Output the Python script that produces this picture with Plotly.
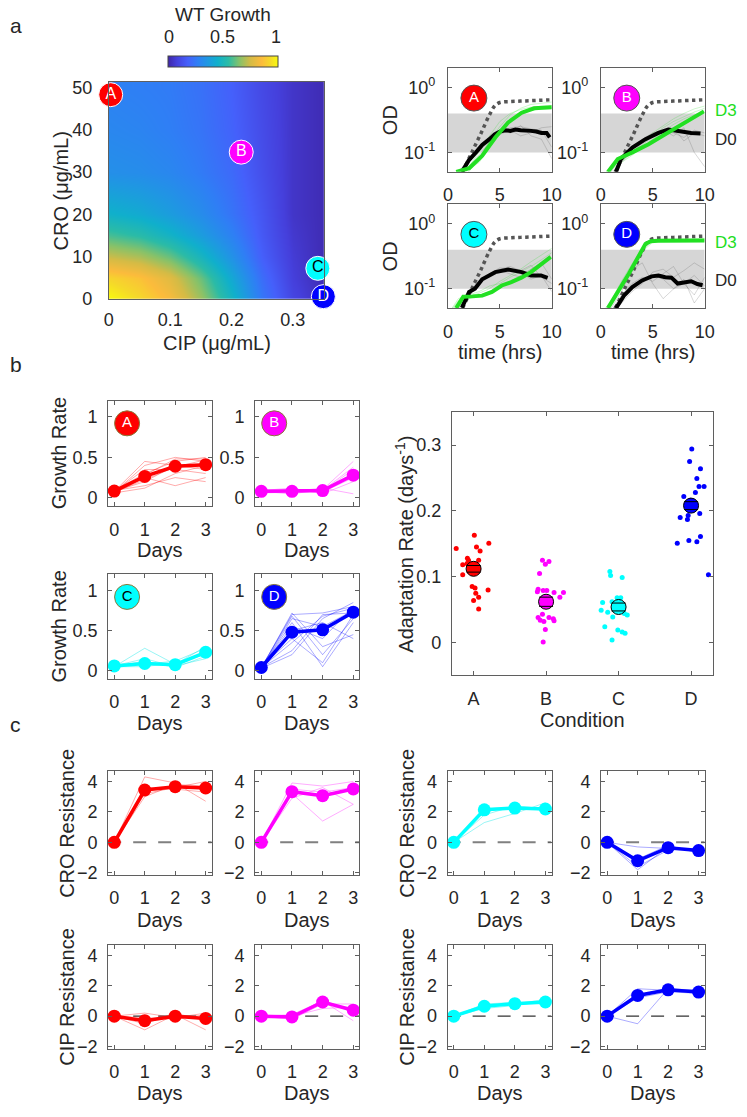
import plotly.graph_objects as go

W, H = 747, 1117
FONT = "Liberation Sans, Arial, Helvetica, sans-serif"
TXT = "#262626"
AXC = "#5f5f5f"

# ------------------------------------------------------------------ data
conditions = ["A", "B", "C", "D"]
cond_color = {"A": "#ff0000", "B": "#ff00ff", "C": "#00ffff", "D": "#0000ff"}
cond_faint = {"A": "rgba(255,0,0,0.33)", "B": "rgba(255,0,255,0.33)",
              "C": "rgba(0,230,230,0.4)", "D": "rgba(0,0,255,0.33)"}
letter_color = {"A": "white", "B": "white", "C": "black", "D": "white"}

# panel a : WT growth landscape (rows = CRO, columns = CIP)
cip_grid = [0.0, 0.05, 0.10, 0.15, 0.20, 0.25, 0.30, 0.35]
cro_grid = [0, 5, 10, 15, 20, 30, 40, 50]
wt_growth = [
    [1.00, 0.93, 0.84, 0.68, 0.48, 0.25, 0.10, 0.03],
    [0.92, 0.87, 0.78, 0.62, 0.42, 0.22, 0.08, 0.02],
    [0.74, 0.70, 0.62, 0.49, 0.34, 0.18, 0.07, 0.02],
    [0.58, 0.54, 0.47, 0.38, 0.28, 0.16, 0.06, 0.02],
    [0.46, 0.43, 0.38, 0.32, 0.24, 0.15, 0.05, 0.02],
    [0.33, 0.32, 0.30, 0.26, 0.21, 0.13, 0.05, 0.02],
    [0.30, 0.29, 0.27, 0.24, 0.19, 0.12, 0.05, 0.02],
    [0.28, 0.27, 0.26, 0.23, 0.18, 0.11, 0.05, 0.02],
]
cond_cip = [0.003, 0.216, 0.341, 0.350]
cond_cro = [48.3, 34.7, 7.2, 0.5]
growth_ticks = [0, 0.5, 1]
growth_ticktext = ["0", "0.5", "1"]

# panel a : OD curves
od_band = [0.1, 0.4]
wt_time = [1.4, 2.3, 3.2, 4.0, 4.5, 5.0, 6.0, 7.0, 8.0, 9.0, 10.0]
wt_od = [0.05, 0.1, 0.2, 0.38, 0.52, 0.59, 0.61, 0.62, 0.63, 0.64, 0.65]
d0_time = {
    "A": [1.35, 2.0, 2.7, 3.3, 4.0, 4.5, 5.0, 5.5, 6.0, 6.5, 7.0, 7.5, 8.0, 8.5, 9.0, 9.5, 9.8],
    "B": [1.47, 1.94, 3.04, 4.3, 5.55, 6.5, 7.0, 7.75, 8.7, 9.6],
    "C": [1.35, 2.04, 2.6, 3.3, 4.56, 5.8, 7.1, 8.0, 8.96, 9.6],
    "D": [1.47, 2.26, 3.04, 3.98, 4.9, 5.55, 6.2, 6.8, 7.4, 8.06, 8.7, 9.3, 9.8],
}
d0_od = {
    "A": [0.05, 0.075, 0.1, 0.13, 0.16, 0.19, 0.21, 0.22, 0.215, 0.225, 0.22, 0.22, 0.215, 0.21, 0.2, 0.2, 0.17],
    "B": [0.05, 0.079, 0.119, 0.16, 0.20, 0.226, 0.22, 0.21, 0.20, 0.195],
    "C": [0.051, 0.089, 0.1, 0.14, 0.18, 0.197, 0.18, 0.16, 0.16, 0.147],
    "D": [0.05, 0.079, 0.106, 0.134, 0.155, 0.16, 0.15, 0.148, 0.12, 0.123, 0.13, 0.118, 0.113],
}
d3_time = {
    "A": [0.8, 2.05, 3.3, 4.56, 5.8, 7.1, 8.3, 10.0],
    "B": [0.69, 1.63, 3.04, 4.6, 6.2, 7.75, 9.0, 9.93],
    "C": [0.79, 1.48, 2.36, 3.3, 4.24, 5.18, 6.1, 7.07, 8.0, 8.96, 9.9],
    "D": [0.69, 2.7, 4.3, 4.8, 5.5, 10.0],
}
d3_od = {
    "A": [0.05, 0.057, 0.089, 0.17, 0.29, 0.41, 0.48, 0.5],
    "B": [0.05, 0.079, 0.10, 0.134, 0.19, 0.27, 0.36, 0.43],
    "C": [0.05, 0.075, 0.076, 0.078, 0.089, 0.112, 0.126, 0.148, 0.18, 0.234, 0.31],
    "D": [0.05, 0.17, 0.49, 0.54, 0.55, 0.555],
}
rep_time = [0, 1, 2, 3, 4, 5, 6, 7, 8, 9, 10]
d0_reps = {
    "A": [[0.03, 0.04, 0.07, 0.11, 0.16, 0.20, 0.24, 0.25, 0.23, 0.22, 0.12],
          [0.03, 0.04, 0.06, 0.09, 0.14, 0.19, 0.22, 0.18, 0.20, 0.24, 0.25],
          [0.03, 0.05, 0.08, 0.12, 0.17, 0.22, 0.20, 0.26, 0.18, 0.16, 0.08]],
    "B": [[0.03, 0.04, 0.07, 0.10, 0.14, 0.18, 0.20, 0.24, 0.15, 0.20, 0.18],
          [0.03, 0.05, 0.09, 0.12, 0.16, 0.20, 0.22, 0.18, 0.24, 0.10, 0.06],
          [0.03, 0.045, 0.08, 0.11, 0.15, 0.19, 0.21, 0.20, 0.17, 0.22, 0.20]],
    "C": [[0.03, 0.05, 0.09, 0.13, 0.17, 0.20, 0.22, 0.19, 0.23, 0.15, 0.12],
          [0.03, 0.05, 0.08, 0.12, 0.16, 0.19, 0.17, 0.15, 0.20, 0.25, 0.14],
          [0.03, 0.045, 0.085, 0.12, 0.17, 0.21, 0.20, 0.18, 0.14, 0.16, 0.09]],
    "D": [[0.03, 0.045, 0.07, 0.10, 0.13, 0.16, 0.14, 0.10, 0.12, 0.16, 0.11],
          [0.03, 0.04, 0.06, 0.09, 0.12, 0.18, 0.20, 0.15, 0.19, 0.25, 0.20],
          [0.03, 0.05, 0.09, 0.20, 0.25, 0.12, 0.07, 0.10, 0.14, 0.06, 0.10],
          [0.03, 0.045, 0.08, 0.12, 0.15, 0.13, 0.17, 0.22, 0.12, 0.08, 0.15]],
}
d3_reps = {
    "A": [[0.03, 0.04, 0.05, 0.08, 0.15, 0.25, 0.38, 0.48, 0.55, 0.58, 0.60],
          [0.03, 0.045, 0.06, 0.10, 0.18, 0.30, 0.40, 0.46, 0.50, 0.52, 0.53],
          [0.03, 0.04, 0.055, 0.07, 0.12, 0.20, 0.30, 0.38, 0.44, 0.48, 0.50]],
    "B": [[0.04, 0.06, 0.08, 0.11, 0.15, 0.20, 0.26, 0.33, 0.40, 0.47, 0.52],
          [0.04, 0.055, 0.07, 0.09, 0.12, 0.16, 0.21, 0.27, 0.33, 0.38, 0.42],
          [0.04, 0.06, 0.075, 0.10, 0.13, 0.18, 0.24, 0.30, 0.36, 0.42, 0.48]],
    "C": [[0.04, 0.065, 0.075, 0.085, 0.10, 0.13, 0.16, 0.20, 0.26, 0.33, 0.42],
          [0.04, 0.06, 0.07, 0.08, 0.09, 0.11, 0.13, 0.16, 0.20, 0.25, 0.30],
          [0.04, 0.07, 0.08, 0.09, 0.11, 0.12, 0.15, 0.18, 0.22, 0.28, 0.36]],
    "D": [[0.04, 0.06, 0.12, 0.22, 0.38, 0.52, 0.54, 0.55, 0.55, 0.56, 0.56],
          [0.04, 0.065, 0.13, 0.24, 0.42, 0.56, 0.58, 0.58, 0.59, 0.59, 0.60]],
}
od_ticks = [0.1, 1]
od_ticktext = ["10<sup>-1</sup>", "10<sup>0</sup>"]

# panel b : growth rate vs day
days = [0, 1, 2, 3]
growth_mean = {
    "A": [0.083, 0.265, 0.39, 0.41],
    "B": [0.08, 0.08, 0.09, 0.28],
    "C": [0.06, 0.09, 0.075, 0.23],
    "D": [0.04, 0.48, 0.51, 0.73],
}
growth_reps = {
    "A": [[0.08, 0.45, 0.40, 0.42], [0.07, 0.40, 0.50, 0.45], [0.09, 0.30, 0.45, 0.50],
          [0.08, 0.20, 0.40, 0.35], [0.06, 0.12, 0.30, 0.40], [0.08, 0.35, 0.35, 0.30],
          [0.07, 0.25, 0.15, 0.25], [0.09, 0.15, 0.25, 0.20], [0.08, 0.28, 0.48, 0.48],
          [0.07, 0.22, 0.38, 0.47]],
    "B": [[0.08, 0.10, 0.10, 0.45], [0.07, 0.06, 0.08, 0.35], [0.09, 0.12, 0.05, 0.20],
          [0.08, 0.05, 0.10, 0.30], [0.07, 0.08, 0.12, 0.05], [0.08, 0.09, 0.07, 0.25],
          [0.06, 0.07, 0.09, 0.38]],
    "C": [[0.05, 0.28, 0.08, 0.30], [0.06, 0.15, 0.05, 0.25], [0.05, 0.05, 0.10, 0.20],
          [0.07, 0.10, 0.06, 0.15], [0.06, 0.08, 0.12, 0.28], [0.05, 0.12, 0.04, 0.18]],
    "D": [[0.04, 0.70, 0.72, 0.80], [0.03, 0.65, 0.55, 0.75], [0.05, 0.55, 0.40, 0.80],
          [0.04, 0.25, 0.70, 0.72], [0.03, 0.20, 0.65, 0.85], [0.05, 0.40, 0.10, 0.70],
          [0.04, 0.60, 0.05, 0.60], [0.03, 0.72, 0.30, 0.45], [0.04, 0.35, 0.68, 0.78],
          [0.05, 0.50, 0.60, 0.40], [0.04, 0.68, 0.20, 0.65]],
}

# panel b : adaptation rate
cond_pos = [1, 2, 3, 4]
adapt_x = {
    "A": [0.76, 1.01, 0.915, 1.04, 1.09, 1.21, 0.91, 0.85, 0.85, 0.99, 1.07, 0.98, 1.02, 1.2, 1.03, 1.07, 1.0, 1.07, 1.06, 0.93],
    "B": [1.95, 1.99, 2.04, 1.91, 1.89, 1.96, 2.01, 2.11, 2.24, 2.19, 1.89, 1.92, 2.04, 2.1, 2.11, 1.97, 1.95, 1.99, 1.96, 1.88],
    "C": [2.88, 2.89, 3.05, 2.78, 2.91, 2.98, 3.03, 2.76, 2.85, 2.92, 3.08, 3.12, 2.81, 2.99, 3.05, 3.09, 2.91, 3.02],
    "D": [4.01, 3.98, 4.13, 4.08, 4.11, 4.18, 4.06, 3.9, 3.99, 4.12, 3.96, 3.85, 3.95, 3.81, 3.97, 4.08, 4.13, 4.24, 4.02],
}
adapt_y = {
    "A": [0.143, 0.163, 0.128, 0.145, 0.139, 0.151, 0.12, 0.118, 0.103, 0.105, 0.125, 0.085, 0.083, 0.080, 0.075, 0.069, 0.064, 0.051, 0.111, 0.125],
    "B": [0.125, 0.119, 0.123, 0.105, 0.081, 0.079, 0.079, 0.076, 0.076, 0.069, 0.038, 0.034, 0.038, 0.036, 0.033, 0.032, 0.043, 0.020, 0.001, 0.077],
    "C": [0.108, 0.102, 0.099, 0.061, 0.062, 0.068, 0.068, 0.049, 0.046, 0.039, 0.044, 0.042, 0.024, 0.019, 0.016, 0.014, 0.004, 0.057],
    "D": [0.294, 0.275, 0.264, 0.249, 0.237, 0.237, 0.228, 0.222, 0.216, 0.196, 0.193, 0.190, 0.187, 0.151, 0.155, 0.153, 0.161, 0.103, 0.21],
}
adapt_mean = [0.112, 0.062, 0.054, 0.208]
adapt_sem = [0.005, 0.007, 0.006, 0.006]
adapt_ticks = [0, 0.1, 0.2, 0.3]
adapt_ticktext = ["0", "0.1", "0.2", "0.3"]

# panel c : resistance
cro_mean = {"A": [0, 3.44, 3.66, 3.57], "B": [0, 3.33, 3.07, 3.51],
            "C": [0, 2.14, 2.25, 2.19], "D": [0, -1.21, -0.35, -0.54]}
cip_mean = {"A": [0, -0.3, 0.0, -0.15], "B": [0, -0.05, 0.93, 0.39],
            "C": [0, 0.65, 0.82, 0.93], "D": [0, 1.36, 1.73, 1.58]}
cro_reps = {
    "A": [[0, 4.3, 3.9, 2.7], [0, 3.2, 3.6, 4.0], [0, 3.6, 3.5, 3.3], [0, 3.0, 3.8, 3.7]],
    "B": [[0, 3.2, 1.4, 2.5], [0, 3.9, 3.7, 4.0], [0, 2.9, 3.6, 2.5], [0, 3.5, 3.3, 3.6]],
    "C": [[0, 1.3, 1.9, 2.6], [0, 2.2, 2.3, 2.1], [0, 1.8, 2.4, 2.2]],
    "D": [[0, -1.8, -0.3, -0.6], [0, -0.3, -0.4, -0.5], [0, -1.6, -0.5, -0.4], [0, -1.1, -0.2, -0.7]],
}
cip_reps = {
    "A": [[0, -0.9, 0.1, -0.9], [0, 0.2, -0.1, 0.2], [0, -0.5, 0.2, -0.3], [0, -0.1, -0.2, 0.1]],
    "B": [[0, 0.1, 1.0, -0.3], [0, -0.2, 0.8, 0.8], [0, 0.0, 0.5, 0.6], [0, -0.1, 1.1, 0.2]],
    "C": [[0, 0.5, 0.7, 1.0], [0, 0.8, 0.9, 0.8], [0, 0.6, 0.8, 1.1]],
    "D": [[0, -0.5, 1.8, 1.5], [0, 1.8, 1.7, 1.6], [0, 1.4, 1.8, 1.7], [0, 1.2, 1.6, 1.5]],
}
res_ticks = [-2, 0, 2, 4]

parula = [[0.00, "#3e26a8"], [0.08, "#4540dc"], [0.18, "#4560fb"], [0.27, "#2f7ff5"],
          [0.36, "#1f98e2"], [0.45, "#10b0cc"], [0.55, "#2cbca6"], [0.65, "#86c26a"],
          [0.75, "#d5bb45"], [0.85, "#fcbb3c"], [0.93, "#f5d92a"], [1.00, "#f9fb0e"]]

# ------------------------------------------------------------------ layout helpers
def px_x(v):
    return v / W


def px_y(v):
    return 1 - v / H


specs = [
    ("heat", 106, 325.5, 79, 298.5),
    ("odA", 452, 558, 65, 170), ("odB", 608, 714, 65, 170),
    ("odC", 452, 558, 203, 308), ("odD", 608, 714, 203, 308),
    ("grA", 105.3, 211, 401.7, 508.3), ("grB", 255.3, 361.7, 401.7, 508.3),
    ("grC", 105.3, 211, 577.7, 683.3), ("grD", 255.3, 361.7, 577.7, 683.3),
    ("adapt", 456, 722.3, 413.3, 680),
    ("croA", 105.3, 211, 776.7, 882.3), ("croB", 255.3, 361.7, 776.7, 882.3),
    ("croC", 451.7, 557.7, 776.7, 882.3), ("croD", 608.3, 714, 776.7, 882.3),
    ("cipA", 105.3, 211, 952.7, 1058.3), ("cipB", 255.3, 361.7, 952.7, 1058.3),
    ("cipC", 451.7, 557.7, 952.7, 1058.3), ("cipD", 608.3, 714, 952.7, 1058.3),
]

fig = go.Figure()
layout = dict(width=W, height=H, margin=dict(l=0, r=0, t=0, b=0),
              paper_bgcolor="white", plot_bgcolor="white", showlegend=False,
              font=dict(family=FONT, color=TXT))
ref = {}
base = dict(showline=True, linecolor=AXC, linewidth=1, mirror="ticks", ticks="inside",
            ticklen=4, tickcolor=AXC, tickfont=dict(size=18, color=TXT, family=FONT),
            zeroline=False, showgrid=False, fixedrange=True)
for k, (name, l, r, t, b) in enumerate(specs, start=1):
    sfx = "" if k == 1 else str(k)
    ref[name] = ("x" + sfx, "y" + sfx)
    layout["xaxis" + sfx] = dict(base, domain=[px_x(l), px_x(r)], anchor="y" + sfx)
    layout["yaxis" + sfx] = dict(base, domain=[px_y(b), px_y(t)], anchor="x" + sfx)


def ax(name, which):
    k = [s[0] for s in specs].index(name) + 1
    sfx = "" if k == 1 else str(k)
    return layout[which + "axis" + sfx]


def add(tr, name):
    xr, yr = ref[name]
    tr.update(xaxis=xr, yaxis=yr, hoverinfo="skip")
    fig.add_trace(tr)


# ------------------------------------------------------------------ heatmap
add(go.Heatmap(x=cip_grid, y=cro_grid, z=wt_growth, zmin=0, zmax=1, zsmooth="best",
               colorscale=parula,
               colorbar=dict(orientation="h", x=px_x(222), xanchor="center",
                             y=px_y(58.5), yanchor="middle", len=110, lenmode="pixels",
                             thickness=11, thicknessmode="pixels", xpad=0, ypad=0,
                             tickvals=growth_ticks, showticklabels=False, ticks="",
                             outlinewidth=1, outlinecolor="#444")), "heat")
add(go.Scatter(x=cond_cip, y=cond_cro, mode="markers+text", text=conditions,
               textposition="middle center", cliponaxis=False,
               textfont=dict(size=16, color=[letter_color[c] for c in conditions], family=FONT),
               marker=dict(size=24, color=[cond_color[c] for c in conditions],
                           line=dict(color="white", width=1))), "heat")
hx, hy = ax("heat", "x"), ax("heat", "y")
hx.update(range=[0, 0.351], tickvals=[0, 0.1, 0.2, 0.3], ticks="", mirror=True,
          ticklabelstandoff=5)
hy.update(range=[0, 51.3], tickvals=[0, 10, 20, 30, 40, 50], ticks="", mirror=True,
          ticklabelstandoff=12)

# ------------------------------------------------------------------ OD panels
for c in conditions:
    name = "od" + c
    add(go.Scatter(x=[0, 10, 10, 0, 0], y=[od_band[0], od_band[0], od_band[1], od_band[1], od_band[0]],
                   fill="toself", fillcolor="#d6d6d6", mode="lines", line=dict(width=0)), name)
    for rep in d0_reps[c]:
        add(go.Scatter(x=rep_time, y=rep, mode="lines",
                       line=dict(color="rgba(90,90,90,0.3)", width=0.8)), name)
    for rep in d3_reps[c]:
        add(go.Scatter(x=rep_time, y=rep, mode="lines",
                       line=dict(color="rgba(40,220,40,0.3)", width=0.8)), name)
    add(go.Scatter(x=wt_time, y=wt_od, mode="lines",
                   line=dict(color="#555555", width=3.5, dash="dot", shape="spline")), name)
    add(go.Scatter(x=d0_time[c], y=d0_od[c], mode="lines",
                   line=dict(color="black", width=4)), name)
    add(go.Scatter(x=d3_time[c], y=d3_od[c], mode="lines",
                   line=dict(color="#22e022", width=4)), name)
    add(go.Scatter(x=[2.5], y=[0.69], mode="markers+text", text=[c], cliponaxis=False,
                   textposition="middle center",
                   textfont=dict(size=15, color=letter_color[c], family=FONT),
                   marker=dict(size=26, color=cond_color[c], line=dict(color="#555", width=1))), name)
    xa, ya = ax(name, "x"), ax(name, "y")
    xa.update(range=[0, 10], tickvals=[0, 5, 10], ticklabelstandoff=7)
    ya.update(type="log", range=[-1.30103, 0.30103], tickvals=od_ticks, ticktext=od_ticktext,
              ticklabelstandoff=8)

# ------------------------------------------------------------------ growth rate panels
for c in conditions:
    name = "gr" + c
    for rep in growth_reps[c]:
        add(go.Scatter(x=days, y=rep, mode="lines", line=dict(color=cond_faint[c], width=1)), name)
    add(go.Scatter(x=days, y=growth_mean[c], mode="lines+markers", cliponaxis=False,
                   line=dict(color=cond_color[c], width=3.5),
                   marker=dict(size=13, color=cond_color[c])), name)
    add(go.Scatter(x=[0.42], y=[0.92], mode="markers+text", text=[c], cliponaxis=False,
                   textposition="middle center",
                   textfont=dict(size=15, color=letter_color[c], family=FONT),
                   marker=dict(size=25, color=cond_color[c], line=dict(color="#8a7a3a", width=1))), name)
    xa, ya = ax(name, "x"), ax(name, "y")
    xa.update(range=[-0.2, 3.2], tickvals=days, ticklabelstandoff=7)
    ya.update(range=[-0.1, 1.2], tickvals=growth_ticks, ticktext=growth_ticktext,
              ticklabelstandoff=6)

# ------------------------------------------------------------------ adaptation rate
for c in conditions:
    add(go.Scatter(x=adapt_x[c], y=adapt_y[c], mode="markers",
                   marker=dict(size=5, color=cond_color[c])), "adapt")
add(go.Scatter(x=cond_pos, y=adapt_mean, mode="markers",
               marker=dict(size=15, color=[cond_color[c] for c in conditions],
                           line=dict(color="black", width=1))), "adapt")
add(go.Scatter(x=cond_pos + cond_pos,
               y=[m + s for m, s in zip(adapt_mean, adapt_sem)] + [m - s for m, s in zip(adapt_mean, adapt_sem)],
               mode="markers",
               marker=dict(symbol="line-ew", size=10, line=dict(color="black", width=1))), "adapt")
xa, ya = ax("adapt", "x"), ax("adapt", "y")
xa.update(range=[0.7, 4.3], tickvals=cond_pos, ticktext=conditions, ticklabelstandoff=7)
ya.update(range=[-0.05, 0.35], tickvals=adapt_ticks, ticktext=adapt_ticktext,
          ticklabelstandoff=6)

# ------------------------------------------------------------------ resistance panels
for prefix, means, reps, zc, zw in (("cro", cro_mean, cro_reps, "#808080", 2),
                                    ("cip", cip_mean, cip_reps, "#333333", 1.2)):
    for c in conditions:
        name = prefix + c
        add(go.Scatter(x=[-0.2, 3.2], y=[0, 0], mode="lines",
                       line=dict(color=zc, width=zw, dash="13px,12px")), name)
        for rep in reps[c]:
            add(go.Scatter(x=days, y=rep, mode="lines", line=dict(color=cond_faint[c], width=1)), name)
        add(go.Scatter(x=days, y=means[c], mode="lines+markers", cliponaxis=False,
                       line=dict(color=cond_color[c], width=3.5),
                       marker=dict(size=13, color=cond_color[c])), name)
        xa, ya = ax(name, "x"), ax(name, "y")
        xa.update(range=[-0.2, 3.2], tickvals=days, ticklabelstandoff=6)
        ya.update(range=[-2.16, 4.69], tickvals=res_ticks, ticklabelstandoff=6)

# ------------------------------------------------------------------ text
ann = []


def text(s, x, y, size=20, angle=0, color=TXT, anchor="center"):
    ann.append(dict(text=s, x=px_x(x), y=px_y(y), xref="paper", yref="paper",
                    showarrow=False, textangle=angle, xanchor=anchor, yanchor="middle",
                    font=dict(size=size, color=color, family=FONT)))


text("a", 3, 22, 21, anchor="left")
text("b", 3, 365, 21, anchor="left")
text("c", 3, 730, 21, anchor="left")
text("WT Growth", 222, 11, 19)
for v, lbl in zip(growth_ticks, growth_ticktext):
    text(lbl, 167 + 110 * v, 33, 18)
text("CRO (μg/mL)", 57, 189, 20, -90)
text("CIP (μg/mL)", 216, 343, 20)
text("OD", 393, 117.5, 20, -90)
text("OD", 393, 255.5, 20, -90)
text("time (hrs)", 505, 352, 20)
text("time (hrs)", 661, 352, 20)
text("D3", 722, 108, 17, color="#22dd22", anchor="left")
text("D0", 722, 137, 17, anchor="left")
text("D3", 722, 242, 17, color="#22dd22", anchor="left")
text("D0", 722, 280, 17, anchor="left")
text("Growth Rate", 55, 455, 20, -90)
text("Growth Rate", 55, 630.5, 20, -90)
for cx in (158, 308.5):
    text("Days", cx, 553, 20)
    text("Days", cx, 728, 20)
text("Adaptation Rate (days<sup>-1</sup>)", 408, 546.7, 20, -90)
text("Condition", 589, 725, 20)
text("CRO Resistance", 63, 829.5, 20, -90)
text("CRO Resistance", 410, 829.5, 20, -90)
text("CIP Resistance", 63, 1005.5, 20, -90)
text("CIP Resistance", 410, 1005.5, 20, -90)
for cx in (158, 308.5, 504.7, 661.2):
    text("Days", cx, 927.7, 20)
    text("Days", cx, 1102.5, 20)

layout["annotations"] = ann
fig.update_layout(**layout)
fig.write_html("out.html", config={"displayModeBar": False},
               post_script="document.body.style.margin='0px';document.body.style.overflow='hidden';")
